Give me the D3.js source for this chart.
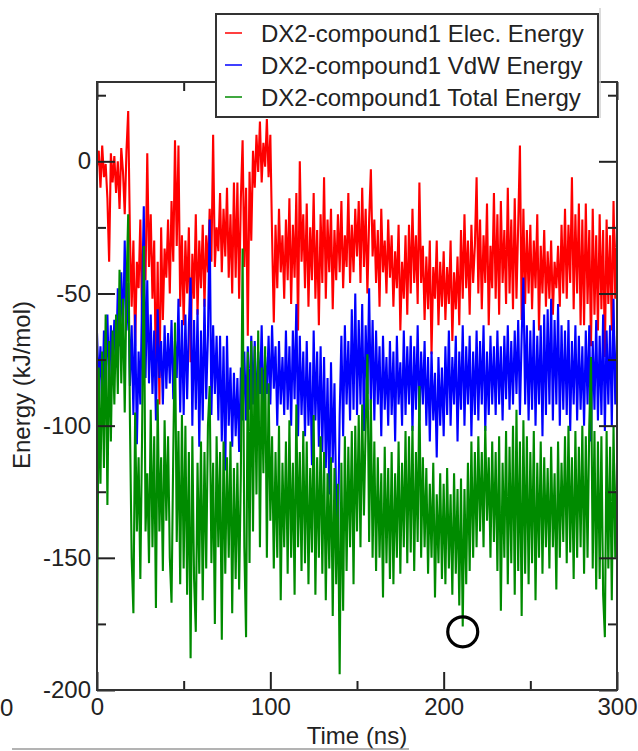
<!DOCTYPE html>
<html><head><meta charset="utf-8">
<script src="https://cdn.jsdelivr.net/npm/d3@7"></script>
<style>
body{margin:0;background:#fff}
svg text{font-family:"Liberation Sans",Arial,Helvetica,sans-serif;fill:#222}
</style>
</head><body><svg id="c" width="638" height="751"></svg>
<script>
// ---- data ----
const seriesNames = ["DX2-compound1 Elec. Energy", "DX2-compound1 VdW Energy", "DX2-compound1 Total Energy"];
const seriesColors = ["#ff0000", "#0000ff", "#008b00"];
const timeStart = 0, timeStep = 1; // ns

const elec = [
-2,4,-10,6,-6,-1,-14,-38,3,-8,
2,-12,0,-18,5,-4,-20,4,19,-28,
-55,-30,-70,-38,-48,-22,-60,-34,-45,3,
-40,-20,-52,-30,-85,-38,-92,-25,-60,-33,
-44,-22,-50,-15,-38,8,-32,6,-55,-28,
-62,-30,-50,-25,-76,-35,-52,-20,-58,-30,
-48,-24,-55,-28,-42,-18,-38,10,-40,-25,
-34,-12,-42,-18,-36,-10,-44,-20,-50,-8,
-44,-8,-52,-14,8,-40,-10,-66,-4,-30,
4,-10,10,-4,15,-8,7,-2,16,-6,
10,-28,-61,-24,-48,-18,-42,-28,-52,-22,
-45,-14,-54,-24,-44,-12,-64,0,-38,-20,
-48,-16,-55,-25,-45,-12,-52,-26,-62,-20,
-46,-6,-52,-22,-42,-18,-56,-26,-45,-20,
-42,-15,-48,-28,-40,-12,-46,-24,-42,-18,
-36,-15,-46,-10,-40,-18,-50,-22,-3,-36,
-22,-46,-26,-55,-18,-42,-30,-50,-22,-44,
-28,-55,-34,-48,-24,-64,-38,-52,-28,-58,
-24,-50,-18,-46,-28,-54,-8,-46,-32,-60,
-36,-56,-30,-73,-40,-52,-30,-62,-38,-55,
-34,-60,-40,-54,-30,-68,-42,-56,-36,-62,
-26,-52,-20,-48,-30,-58,-24,-46,-32,-6,
-50,-22,-56,-28,-46,-16,-62,-32,-48,-12,
-52,-20,-58,-15,-46,-26,-54,-10,-50,-22,
-56,-14,-52,-24,6,-60,-18,-54,-26,-50,
-24,-56,-30,-48,-20,-64,-32,-50,-26,-55,
-34,-52,-30,-58,-38,-48,-32,-55,-24,-50,
-18,-52,-24,-46,-6,-56,-20,-50,-16,-62,
-22,-62,-16,-54,-26,-70,-18,-58,-28,-64,
-20,-56,-26,-74,-22,-54,-28,-64,-15,-52,-24
];

const vdw = [
-65,-85,-70,-95,-64,-82,-58,-86,-62,-78,
-60,-78,-48,-70,-42,-66,-30,-64,-46,-85,
-62,-96,-58,-107,-72,-92,-52,-17,-82,-45,
-84,-58,-88,-64,-98,-56,-82,-68,-92,-62,
-86,-65,-84,-60,-90,-68,-82,-52,-95,-60,
-96,-58,-90,-62,-44,-100,-60,-94,-56,-108,
-64,-98,-52,-90,-66,-22,-96,-62,-88,-66,
-98,-66,-106,-70,-117,-66,-100,-78,-108,-80,
-104,-82,-110,-78,-98,-72,-98,-70,-94,-66,
-92,-68,-96,-72,-88,-62,-94,-74,-88,-66,
-92,-62,-86,-70,-100,-68,-92,-74,-96,-64,
-94,-70,-100,-64,-90,-54,-104,-66,-96,-72,
-104,-68,-100,-76,-115,-64,-98,-72,-108,-70,
-110,-74,-116,-82,-126,-76,-114,-84,-130,-143,
-96,-66,-104,-62,-92,-68,-98,-56,-94,-50,
-96,-60,-92,-54,-102,-62,-88,-48,-94,-60,
-98,-64,-92,-70,-104,-66,-94,-74,-100,-68,
-96,-72,-106,-66,-92,-76,-100,-64,-96,-70,
-92,-66,-102,-70,-94,-62,-98,-72,-92,-68,
-100,-74,-106,-72,-98,-80,-112,-74,-100,-78,
-104,-70,-96,-64,-100,-74,-92,-66,-106,-72,
-94,-62,-100,-70,-92,-66,-104,-72,-96,-64,
-98,-68,-92,-62,-102,-72,-96,-66,-92,-70,
-96,-64,-92,-70,-98,-66,-90,-62,-94,-68,
-92,-64,-88,-60,-96,-66,-44,-92,-62,-98,
-64,-94,-60,-100,-66,-92,-62,-104,-58,-96,
-56,-92,-52,-98,-60,-92,-54,-100,-62,-94,
-64,-96,-60,-102,-68,-92,-62,-98,-66,-94,
-70,-100,-64,-92,-62,-106,-68,-94,-60,-98,
-66,-96,-58,-102,-64,-92,-62,-100,-52,-92,-66
];

const total = [
-186,-78,-122,-72,-116,-58,-130,-68,-106,-64,
-92,-58,-88,-41,-84,-52,-95,-48,-20,-98,
-150,-171,-95,-140,-112,-158,-104,-32,-140,-118,
-152,-94,-146,-104,-169,-90,-140,-112,-155,-98,
-136,-104,-150,-167,-110,-61,-144,-102,-160,-96,
-154,-100,-164,-110,-188,-104,-158,-178,-114,-156,
-106,-166,-110,-154,-100,-85,-152,-114,-175,-104,
-146,-110,-181,-106,-156,-112,-150,-106,-171,-116,
-158,-114,-162,-118,-33,-146,-180,-72,-152,-68,
-140,-70,-126,-64,-146,-78,-118,-70,-150,-84,
-136,-104,-154,-110,-150,-100,-166,-114,-146,-106,
-156,-98,-150,-114,-164,-92,-146,-110,-155,-102,
-152,-106,-160,-116,-148,-96,-164,-112,-150,-104,
-156,-110,-166,-118,-154,-112,-172,-116,-160,-122,
-194,-114,-170,-104,-155,-108,-146,-102,-160,-100,
-140,-96,-146,-92,-134,-100,-73,-144,-90,-150,
-106,-155,-112,-150,-118,-165,-108,-152,-116,-158,
-110,-160,-118,-150,-106,-156,-114,-146,-102,-152,
-104,-148,-100,-155,-110,-144,-85,-150,-112,-146,
-116,-156,-122,-150,-114,-165,-126,-152,-118,-158,
-122,-160,-116,-154,-126,-164,-118,-156,-124,-168,
-120,-176,-124,-160,-114,-155,-106,-150,-110,-146,
-104,-140,-110,-146,-100,-136,-112,-150,-106,-144,
-110,-155,-104,-170,-114,-150,-102,-160,-108,-152,
-100,-164,-94,-155,-106,-172,-98,-156,-104,-160,
-110,-152,-102,-166,-114,-150,-106,-156,-112,-146,
-116,-154,-108,-146,-118,-162,-106,-150,-114,-144,
-104,-152,-100,-148,-112,-158,-102,-150,-108,-146,
-100,-156,-104,-150,-100,-74,-154,-102,-162,-106,
-158,-104,-164,-180,-102,-154,-108,-166,-100,-150,-114
];

const xTicksMajor = [0, 100, 200, 300];
const xTicksMinor = [50, 150, 250];
const yTicksMajor = [0, -50, -100, -150, -200];
const yTicksMinor = [25, -25, -75, -125, -175];
const markedPoint = {t: 211, v: -178};

// ---- drawing ----
const svg = d3.select("#c");
const L = 97, R = 617, T = 82, B = 690;
const x = d3.scaleLinear().domain([0, 300]).range([L, R]);
const y = d3.scaleLinear().domain([-200, 30]).range([B, T]);
const FS = 24;
const fmt = d => String(d);

svg.append("defs").append("clipPath").attr("id", "clip")
  .append("rect").attr("x", L).attr("y", T).attr("width", R - L).attr("height", B - T);

const series = [elec, vdw, total];
const line = d3.line().x((d, i) => x(timeStart + i * timeStep)).y(d => y(d));
const plot = svg.append("g").attr("clip-path", "url(#clip)");
series.forEach((s, k) => {
  plot.append("path").datum(s).attr("d", line)
    .attr("fill", "none").attr("stroke", seriesColors[k])
    .attr("stroke-width", 2.1).attr("stroke-linejoin", "bevel");
});

// axes with inward ticks on all four sides
function styleAxis(g) {
  g.select(".domain").remove();
  g.selectAll(".tick line").attr("stroke", "#222").attr("stroke-width", 2);
  g.selectAll("text").style("font-size", FS + "px").attr("fill", "#222");
}
svg.append("g").attr("transform", `translate(0,${B})`)
  .call(d3.axisBottom(x).tickValues(xTicksMajor).tickSize(-18).tickPadding(8).tickFormat(fmt))
  .call(styleAxis);
svg.append("g").attr("transform", `translate(0,${B})`)
  .call(d3.axisBottom(x).tickValues(xTicksMinor).tickSize(-9).tickFormat(""))
  .call(styleAxis);
svg.append("g").attr("transform", `translate(0,${T})`)
  .call(d3.axisTop(x).tickValues(xTicksMajor).tickSize(-18).tickFormat(""))
  .call(styleAxis);
svg.append("g").attr("transform", `translate(0,${T})`)
  .call(d3.axisTop(x).tickValues(xTicksMinor).tickSize(-9).tickFormat(""))
  .call(styleAxis);
svg.append("g").attr("transform", `translate(${L},0)`)
  .call(d3.axisLeft(y).tickValues(yTicksMajor).tickSize(-18).tickPadding(6).tickFormat(fmt))
  .call(styleAxis);
svg.append("g").attr("transform", `translate(${L},0)`)
  .call(d3.axisLeft(y).tickValues(yTicksMinor).tickSize(-9).tickFormat(""))
  .call(styleAxis);
svg.append("g").attr("transform", `translate(${R},0)`)
  .call(d3.axisRight(y).tickValues(yTicksMajor).tickSize(-18).tickFormat(""))
  .call(styleAxis);
svg.append("g").attr("transform", `translate(${R},0)`)
  .call(d3.axisRight(y).tickValues(yTicksMinor).tickSize(-9).tickFormat(""))
  .call(styleAxis);

// frame
svg.append("rect").attr("x", L).attr("y", T).attr("width", R - L).attr("height", B - T)
  .attr("fill", "none").attr("stroke", "#333").attr("stroke-width", 2);

// axis titles
svg.append("text").attr("x", (L + R) / 2).attr("y", 744).attr("text-anchor", "middle")
  .style("font-size", FS + "px").text("Time (ns)");
svg.append("text").attr("transform", `translate(30,${(T + B) / 2 - 1}) rotate(-90)`)
  .attr("text-anchor", "middle").style("font-size", FS + "px").text("Energy (kJ/mol)");

// stray label at far left edge
svg.append("text").attr("x", 0).attr("y", 716).attr("text-anchor", "start")
  .style("font-size", FS + "px").text("0");

// marker circle
svg.append("circle").attr("cx", x(markedPoint.t)).attr("cy", y(markedPoint.v)).attr("r", 15)
  .attr("fill", "none").attr("stroke", "#000").attr("stroke-width", 3.2);

// legend
const lg = svg.append("g");
lg.append("line").attr("x1", 600).attr("x2", 600).attr("y1", 8).attr("y2", 118)
  .attr("stroke", "#d0d0d0").attr("stroke-width", 1.5);
lg.append("rect").attr("x", 216).attr("y", 14).attr("width", 382).attr("height", 103)
  .attr("fill", "#fff").attr("stroke", "#333").attr("stroke-width", 2);
seriesNames.forEach((n, k) => {
  const yy = 33 + k * 32;
  lg.append("line").attr("x1", 225).attr("x2", 242).attr("y1", yy).attr("y2", yy)
    .attr("stroke", seriesColors[k]).attr("stroke-width", 1.5);
  lg.append("text").attr("x", 261).attr("y", yy).attr("dy", "0.36em")
    .style("font-size", FS + "px").text(n);
});

// bottom gray rule
svg.append("line").attr("x1", 12).attr("x2", 409).attr("y1", 749).attr("y2", 749)
  .attr("stroke", "#9a9a9a").attr("stroke-width", 1.5);
</script>
</body></html>
